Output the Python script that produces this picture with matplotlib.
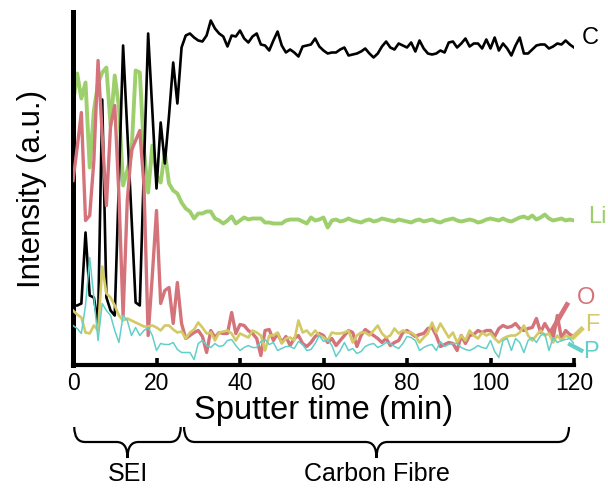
import matplotlib
matplotlib.use("Agg")
import matplotlib.pyplot as plt
import numpy as np
from matplotlib.path import Path
from matplotlib.patches import PathPatch
import matplotlib.transforms as mtransforms

plt.rcParams['font.family'] = ['Liberation Sans', 'DejaVu Sans']

time_min = list(range(0, 121))

C = [60, 60, 62, 133, 70, 68, 42, 266, 68, 55,
     50, 185, 320, 235, 150, 63, 60, 200, 332, 255,
     177, 243, 202, 250, 303, 262, 318, 330, 332, 328,
     325, 324, 330, 345, 337, 332, 329, 319, 330, 329,
     335, 327, 323, 329, 332, 321, 320, 315, 325, 334,
     320, 313, 316, 313, 309, 319, 320, 321, 327, 319,
     315, 312, 313, 313, 316, 318, 310, 311, 312, 314,
     317, 312, 308, 312, 319, 324, 318, 316, 322, 320,
     318, 323, 314, 325, 317, 312, 311, 312, 315, 313,
     323, 324, 318, 322, 327, 319, 322, 322, 317, 326,
     317, 328, 315, 322, 317, 310, 320, 328, 312, 312,
     316, 320, 321, 321, 317, 319, 322, 321, 325, 321,
     318]

Li = [262, 292, 267, 283, 198, 255, 282, 293, 298, 240,
      290, 258, 180, 195, 212, 295, 293, 215, 173, 220,
      190, 183, 213, 182, 175, 172, 163, 157, 154, 147,
      152, 152, 154, 154, 147, 145, 142, 145, 149, 142,
      145, 148, 146, 147, 147, 147, 143, 143, 142, 142,
      142, 145, 146, 146, 146, 144, 142, 148, 145, 146,
      148, 138, 145, 146, 144, 145, 147, 145, 144, 143,
      145, 146, 144, 145, 147, 146, 145, 144, 146, 145,
      144, 143, 145, 146, 144, 145, 146, 144, 143, 145,
      146, 147, 145, 144, 145, 146, 145, 143, 144, 146,
      147, 146, 145, 147, 145, 144, 146, 148, 149, 147,
      150, 146, 148, 151, 147, 145, 146, 147, 145, 146,
      145]

O = [185, 218, 253, 145, 150, 205, 305, 230, 160, 240,
     260, 170, 50, 165, 215, 225, 235, 180, 30, 90,
     155, 62, 75, 78, 42, 83, 42, 27, 30, 33,
     35, 29, 13, 35, 28, 33, 32, 32, 53, 32,
     41, 40, 35, 32, 27, 10, 35, 36, 25, 32,
     23, 29, 20, 27, 30, 22, 19, 23, 29, 32,
     30, 23, 27, 20, 25, 30, 35, 33, 19, 30,
     36, 33, 30, 27, 23, 27, 20, 23, 25, 33,
     35, 32, 29, 31, 32, 37, 38, 30, 19, 21,
     23, 22, 15, 30, 22, 30, 31, 35, 33, 35,
     35, 29, 37, 40, 38, 39, 42, 37, 35, 37,
     38, 47, 33, 42, 35, 27, 50, 27, 35, 31,
     29]

F = [55, 51, 48, 33, 32, 40, 35, 99, 72, 68,
     60, 50, 45, 47, 45, 43, 41, 39, 39, 40,
     38, 35, 40, 40, 36, 33, 34, 27, 33, 36,
     43, 38, 32, 33, 25, 33, 34, 35, 32, 25,
     32, 30, 28, 35, 33, 30, 15, 30, 30, 33,
     22, 27, 28, 25, 45, 33, 35, 30, 35, 30,
     28, 25, 33, 32, 32, 33, 35, 23, 30, 33,
     33, 30, 35, 40, 32, 28, 30, 37, 32, 35,
     33, 33, 30, 23, 28, 32, 43, 33, 42, 35,
     28, 33, 23, 30, 25, 35, 30, 27, 33, 30,
     32, 27, 23, 27, 29, 30, 30, 33, 40, 30,
     25, 30, 35, 30, 32, 23, 30, 25, 30, 28,
     27]

P = [40, 37, 32, 60, 108, 68, 25, 62, 55, 50,
     35, 23, 50, 45, 30, 38, 30, 35, 38, 30,
     15, 22, 21, 21, 23, 16, 13, 13, 13, 6,
     22, 25, 20, 18, 22, 19, 20, 25, 26, 20,
     15, 18, 20, 18, 18, 24, 26, 21, 23, 15,
     17, 19, 19, 17, 24, 21, 15, 16, 22, 30,
     24, 26, 20, 9, 15, 23, 15, 17, 12, 14,
     19, 21, 22, 18, 20, 23, 22, 19, 17, 22,
     29, 28, 25, 15, 18, 20, 21, 15, 24, 19,
     21, 22, 22, 18, 16, 15, 17, 20, 18, 17,
     25, 14, 8, 25, 27, 15, 27, 23, 13, 25,
     28, 23, 30, 32, 15, 28, 23, 25, 26, 27,
     22]

xticks = [0, 20, 40, 60, 80, 100, 120]
regions = ["SEI", "Carbon Fibre"]
region_spans = [(0.3, 25.8), (26.6, 118.8)]

col = {"C": "black", "Li": "#9dd06c", "O": "#d5737b", "F": "#d3c965", "P": "#62cfc9"}

fig = plt.figure(figsize=(6.08, 4.90), dpi=100)
ax = fig.add_axes([73/608, 1-365.5/490, 501/608, (365.5-12)/490])
ax.set_xlim(0, 120)
ax.set_ylim(0, 353.5)

ax.plot(time_min, Li, color=col["Li"], lw=2.8, zorder=2)
ax.plot(time_min, C, color=col["C"], lw=1.9, zorder=3)
ax.plot(time_min, O, color=col["O"], lw=2.4, zorder=4)
ax.plot(time_min, F, color=col["F"], lw=1.9, zorder=5)
ax.plot(time_min, P, color=col["P"], lw=1.1, zorder=6)

# leader lines to labels
ax.plot([114, 118.6], [30, 63], color=col["O"], lw=3.4, clip_on=False, solid_capstyle='butt', zorder=4)
ax.plot([119.5, 122.2], [27, 38], color=col["F"], lw=3.4, clip_on=False, solid_capstyle='butt', zorder=5)
ax.plot([118.6, 122.2], [22, 14], color=col["P"], lw=3.0, clip_on=False, solid_capstyle='butt', zorder=6)

lab_kw = dict(fontsize=17, ha='center', va='center', clip_on=False)
ax.text(123.8, 327.5, "C", color=col["C"], **lab_kw)
ax.text(125.5, 148.5, "Li", color=col["Li"], **lab_kw)
ax.text(122.9, 67.5, "O", color=col["O"], **lab_kw)
ax.text(124.5, 40.5, "F", color=col["F"], **lab_kw)
ax.text(124.0, 13.5, "P", color=col["P"], **lab_kw)

for s in ["top", "right"]:
    ax.spines[s].set_visible(False)
ax.spines["left"].set_linewidth(3.6)
ax.spines["bottom"].set_linewidth(3.0)
ax.set_yticks([])
ax.set_xticks(xticks)
ax.tick_params(axis='x', direction='in', length=5, width=2.6, labelsize=16.5, pad=5)
ax.set_xlabel("Sputter time (min)", fontsize=23.5, labelpad=0)
ax.set_ylabel("Intensity (a.u.)", fontsize=22.5, labelpad=19)

# curly braces
trans = mtransforms.blended_transform_factory(ax.transData, fig.transFigure)
def yf(px):
    return 1 - px / 490.0

def brace(x0, x1, ytop, ymid, ytip, r=2.6):
    xm = (x0 + x1) / 2
    verts = [(x0, yf(ytop)), (x0, yf(ymid)), (x0 + r, yf(ymid)),
             (xm - r, yf(ymid)), (xm, yf(ymid)), (xm, yf(ytip)),
             (xm, yf(ymid)), (xm + r, yf(ymid)),
             (x1 - r, yf(ymid)), (x1, yf(ymid)), (x1, yf(ytop))]
    codes = [Path.MOVETO, Path.CURVE3, Path.CURVE3,
             Path.LINETO, Path.CURVE3, Path.CURVE3,
             Path.CURVE3, Path.CURVE3,
             Path.LINETO, Path.CURVE3, Path.CURVE3]
    patch = PathPatch(Path(verts, codes), facecolor='none', edgecolor='black',
                      lw=1.6, transform=trans, clip_on=False)
    fig.add_artist(patch)

for (a, b), name in zip(region_spans, regions):
    brace(a, b, 427, 442, 458)
    fig.text((a + b) / 2, yf(474), name, transform=trans, fontsize=18,
             ha='center', va='center')

fig.savefig("out.png", dpi=100)
